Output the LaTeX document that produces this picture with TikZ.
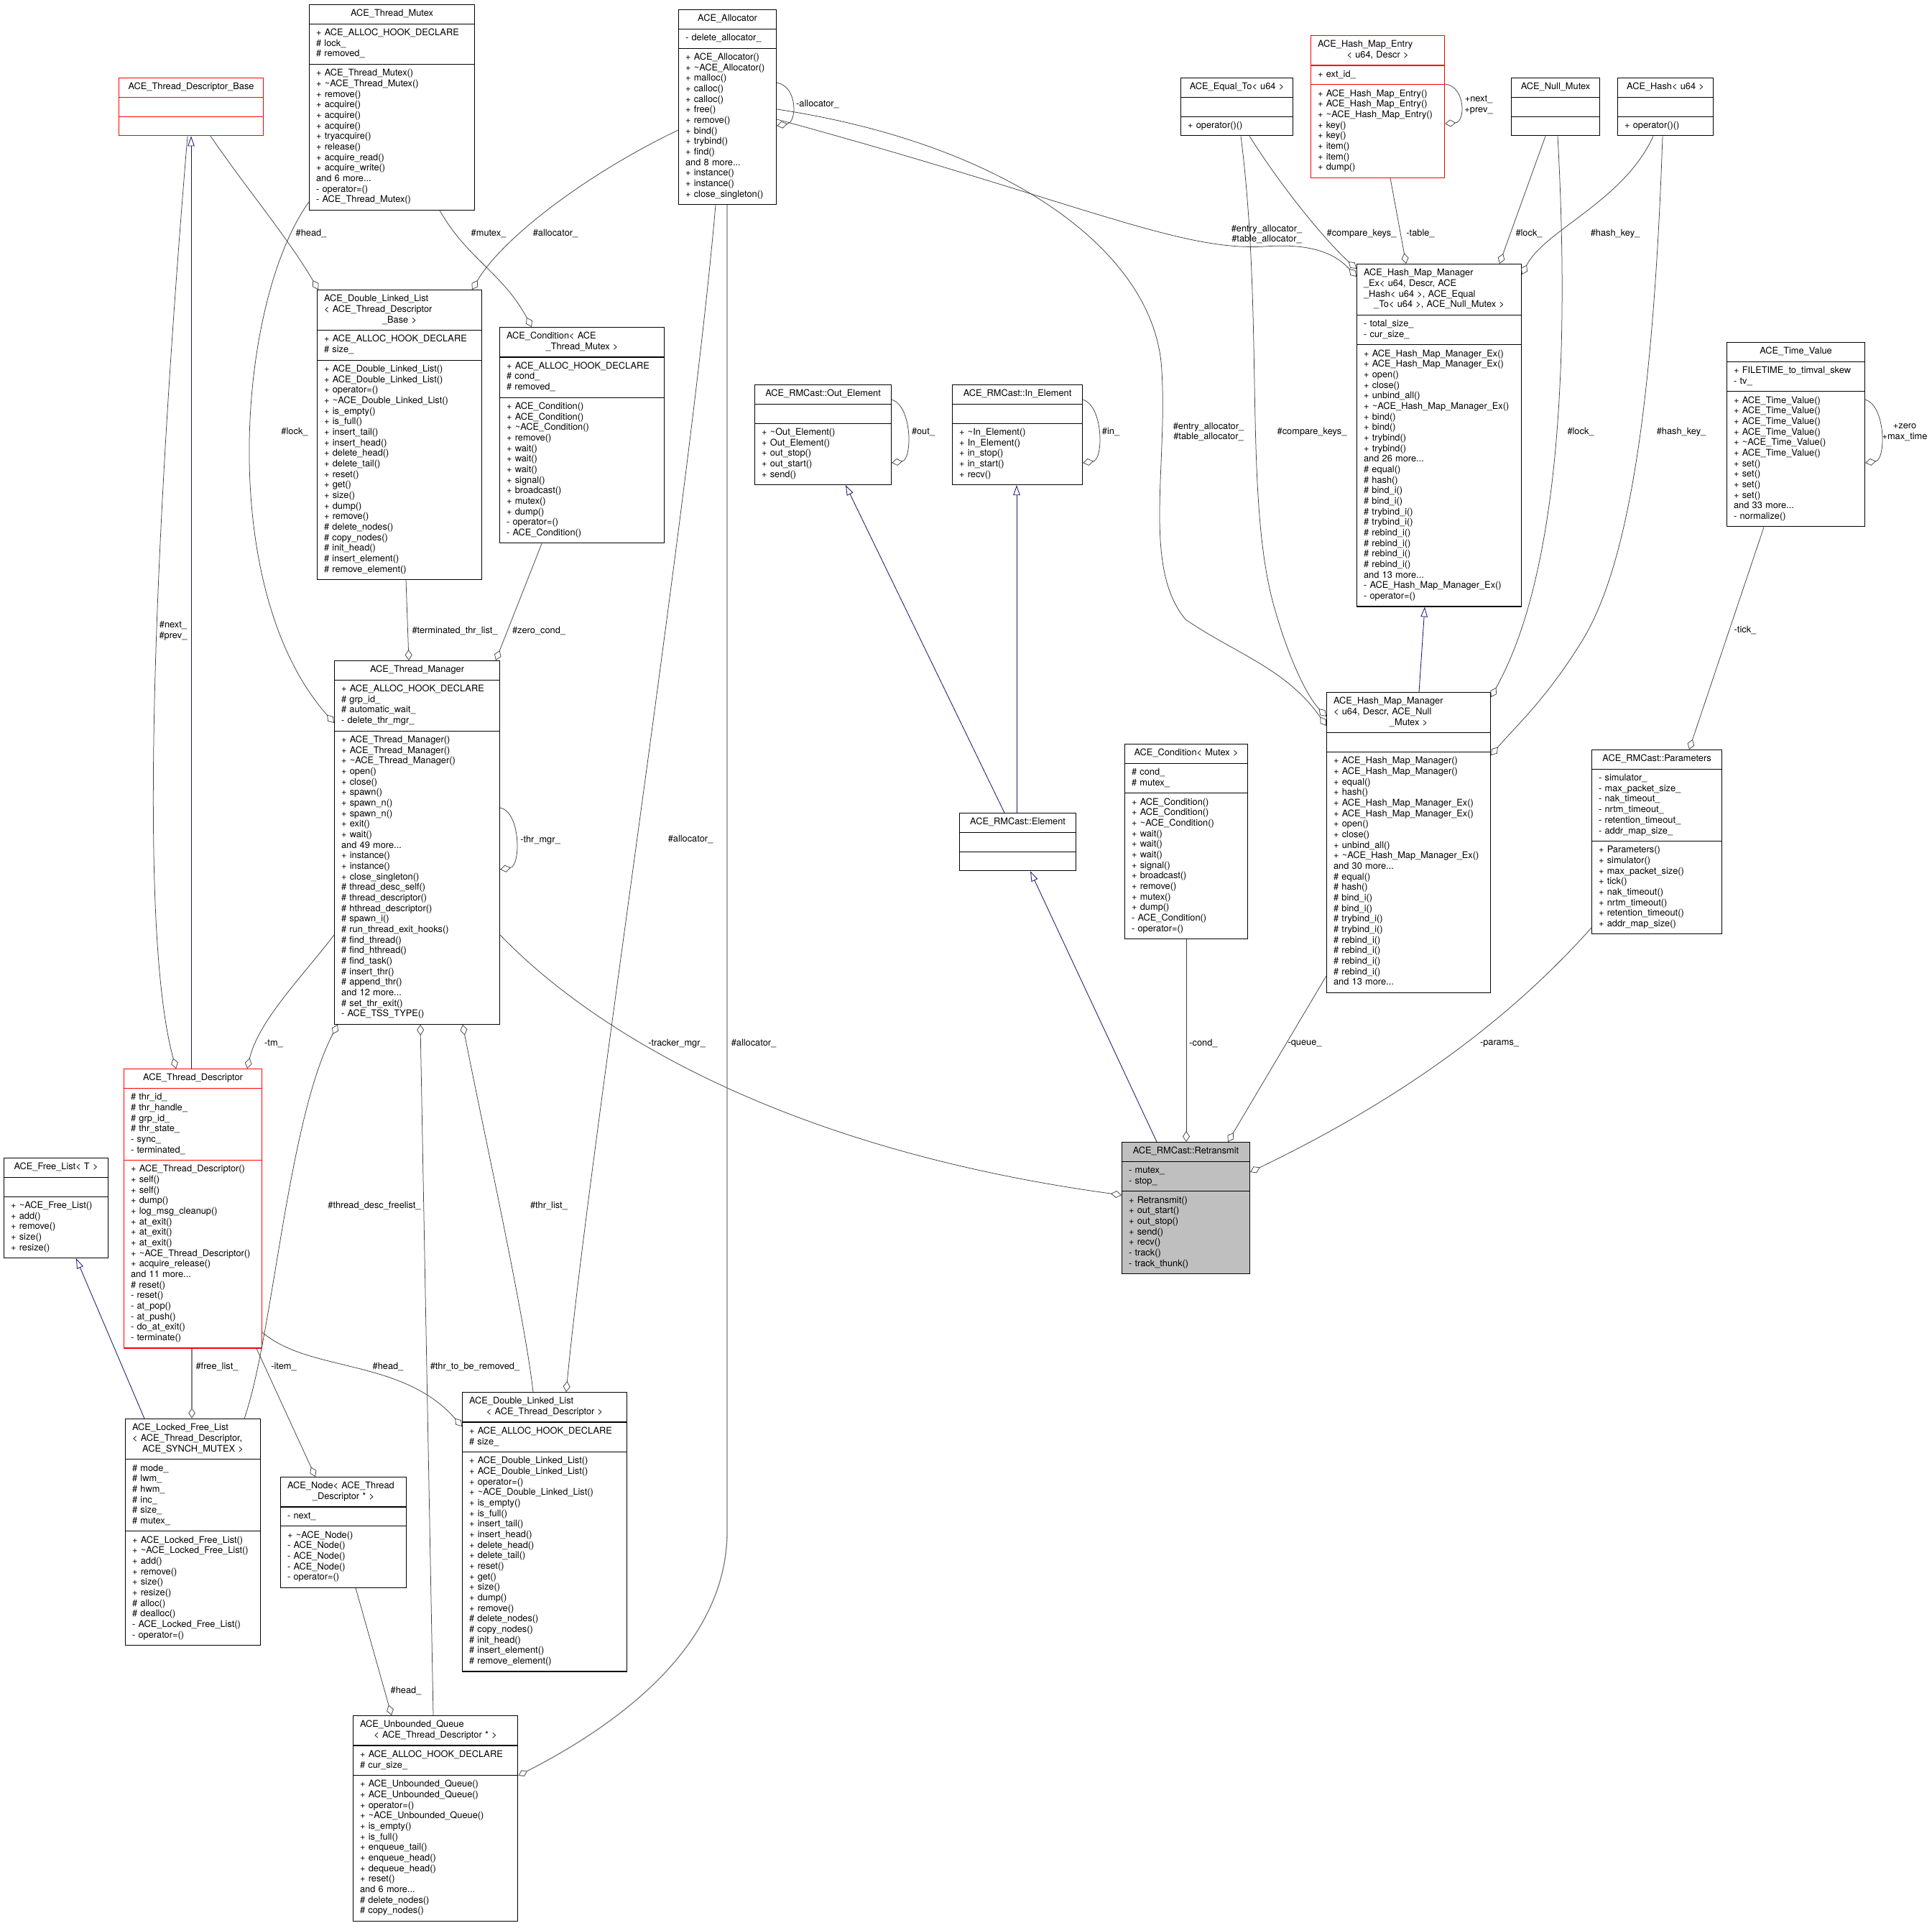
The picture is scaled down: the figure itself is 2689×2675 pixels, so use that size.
\documentclass[tikz,border=0pt]{standalone}
\usepackage{fontspec}
\setmainfont{TeX Gyre Heros}
\usetikzlibrary{arrows.meta,shapes.multipart,calc}
\definecolor{edgegrey}{RGB}{64,64,64}
\definecolor{tmplgrey}{RGB}{128,128,128}
\definecolor{inheritblue}{RGB}{25,25,112}
\definecolor{boxred}{RGB}{255,0,0}
\definecolor{focusgrey}{RGB}{191,191,191}
\hyphenpenalty=10000
\exhyphenpenalty=10000
\newcommand{\umlfont}{\fontsize{12.8}{14.67}\selectfont}
% last title line is centred, the others stay flush left
\newcommand{\ctrline}[1]{\hspace*{0pt plus 1filll}\strut#1\strut\hspace*{0pt plus 1filll}\null}
% member list shared by both double linked lists
\newcommand{\dllops}{\strut +~ACE\_Double\_Linked\_List()\\ +~ACE\_Double\_Linked\_List()\\ +~operator=()\\
  +~\textasciitilde ACE\_Double\_Linked\_List()\\ +~is\_empty()\\ +~is\_full()\\ +~insert\_tail()\\ +~insert\_head()\\
  +~delete\_head()\\ +~delete\_tail()\\ +~reset()\\ +~get()\\ +~size()\\ +~dump()\\ +~remove()\\
  \#~delete\_nodes()\\ \#~copy\_nodes()\\ \#~init\_head()\\ \#~insert\_element()\\ \#~remove\_element()\strut}

\begin{document}
\begin{tikzpicture}[
    x=1pt, y=-1pt,
    classbox/.style={rectangle split, rectangle split parts=3, draw=black, line width=1.1pt,
        anchor=north west, font=\umlfont, align=left, inner xsep=9.5pt, inner ysep=5.5pt, fill=white},
    redbox/.style={classbox, draw=boxred},
    focusbox/.style={classbox, fill=focusgrey},
    aggr/.style={draw=edgegrey, line width=0.75pt, -{Diamond[open, length=15pt, width=10pt]}},
    tmpl/.style={aggr, draw=tmplgrey, line width=1.3pt},
    inherit/.style={draw=inheritblue, line width=0.85pt, -{Triangle[open, length=14pt, width=9.5pt]}},
    lbl/.style={font=\umlfont, inner sep=0pt, align=center},
]
    \useasboundingbox (0,0) rectangle (2689,2675);

    % Thread side (left half)
    \node[redbox, text width=182pt] (tdb) at (165,108) {\ctrline{ACE\_Thread\_Descriptor\_Base}
        \nodepart{two}\strut \nodepart{three}\strut};
    \node[classbox, text width=211pt] (mutex) at (430,6) {\ctrline{ACE\_Thread\_Mutex}
        \nodepart{two}\strut +~ACE\_ALLOC\_HOOK\_DECLARE\\ \#~lock\_\\ \#~removed\_\strut
        \nodepart{three}\strut +~ACE\_Thread\_Mutex()\\ +~\textasciitilde ACE\_Thread\_Mutex()\\ +~remove()\\
        +~acquire()\\ +~acquire()\\ +~acquire()\\ +~tryacquire()\\ +~release()\\ +~acquire\_read()\\
        +~acquire\_write()\\ and~6~more...\\ -~operator=()\\ -~ACE\_Thread\_Mutex()\strut};
    \node[classbox, text width=210pt] (dlltdb) at (441,403) {\strut ACE\_Double\_Linked\_List\\
        <~ACE\_Thread\_Descriptor\\ \ctrline{\_Base~>}
        \nodepart{two}\strut +~ACE\_ALLOC\_HOOK\_DECLARE\\ \#~size\_\strut
        \nodepart{three}\dllops};
    \node[classbox, text width=210pt] (condtm) at (695,455) {\strut ACE\_Condition<~ACE\\
        \ctrline{\_Thread\_Mutex~>}
        \nodepart{two}\strut +~ACE\_ALLOC\_HOOK\_DECLARE\\ \#~cond\_\\ \#~removed\_\strut
        \nodepart{three}\strut +~ACE\_Condition()\\ +~ACE\_Condition()\\ +~\textasciitilde ACE\_Condition()\\
        +~remove()\\ +~wait()\\ +~wait()\\ +~wait()\\ +~signal()\\ +~broadcast()\\ +~mutex()\\ +~dump()\\
        -~operator=()\\ -~ACE\_Condition()\strut};
    \node[classbox, text width=211pt] (tm) at (465,919) {\ctrline{ACE\_Thread\_Manager}
        \nodepart{two}\strut +~ACE\_ALLOC\_HOOK\_DECLARE\\ \#~grp\_id\_\\ \#~automatic\_wait\_\\ -~delete\_thr\_mgr\_\strut
        \nodepart{three}\strut +~ACE\_Thread\_Manager()\\ +~ACE\_Thread\_Manager()\\ +~\textasciitilde ACE\_Thread\_Manager()\\
        +~open()\\ +~close()\\ +~spawn()\\ +~spawn\_n()\\ +~spawn\_n()\\ +~exit()\\ +~wait()\\ and~49~more...\\
        +~instance()\\ +~instance()\\ +~close\_singleton()\\ \#~thread\_desc\_self()\\ \#~thread\_descriptor()\\
        \#~hthread\_descriptor()\\ \#~spawn\_i()\\ \#~run\_thread\_exit\_hooks()\\ \#~find\_thread()\\
        \#~find\_hthread()\\ \#~find\_task()\\ \#~insert\_thr()\\ \#~append\_thr()\\ and~12~more...\\
        \#~set\_thr\_exit()\\ -~ACE\_TSS\_TYPE()\strut};
    \node[redbox, text width=173pt] (td) at (172,1487) {\ctrline{ACE\_Thread\_Descriptor}
        \nodepart{two}\strut \#~thr\_id\_\\ \#~thr\_handle\_\\ \#~grp\_id\_\\ \#~thr\_state\_\\ -~sync\_\\ -~terminated\_\strut
        \nodepart{three}\strut +~ACE\_Thread\_Descriptor()\\ +~self()\\ +~self()\\ +~dump()\\ +~log\_msg\_cleanup()\\
        +~at\_exit()\\ +~at\_exit()\\ +~at\_exit()\\ +~\textasciitilde ACE\_Thread\_Descriptor()\\ +~acquire\_release()\\
        and~11~more...\\ \#~reset()\\ -~reset()\\ -~at\_pop()\\ -~at\_push()\\ -~do\_at\_exit()\\ -~terminate()\strut};
    \node[classbox, text width=126pt] (freel) at (5,1611) {\ctrline{ACE\_Free\_List<~T~>}
        \nodepart{two}\strut
        \nodepart{three}\strut +~\textasciitilde ACE\_Free\_List()\\ +~add()\\ +~remove()\\ +~size()\\ +~resize()\strut};
    \node[classbox, text width=169pt] (lfl) at (174,1974) {\strut ACE\_Locked\_Free\_List\\
        <~ACE\_Thread\_Descriptor,\\ \ctrline{ACE\_SYNCH\_MUTEX~>}
        \nodepart{two}\strut \#~mode\_\\ \#~lwm\_\\ \#~hwm\_\\ \#~inc\_\\ \#~size\_\\ \#~mutex\_\strut
        \nodepart{three}\strut +~ACE\_Locked\_Free\_List()\\ +~\textasciitilde ACE\_Locked\_Free\_List()\\ +~add()\\
        +~remove()\\ +~size()\\ +~resize()\\ \#~alloc()\\ \#~dealloc()\\ -~ACE\_Locked\_Free\_List()\\ -~operator=()\strut};
    \node[classbox, text width=156pt] (node) at (390,2055) {\strut ACE\_Node<~ACE\_Thread\\
        \ctrline{\_Descriptor~*~>}
        \nodepart{two}\strut -~next\_\strut
        \nodepart{three}\strut +~\textasciitilde ACE\_Node()\\ -~ACE\_Node()\\ -~ACE\_Node()\\ -~ACE\_Node()\\ -~operator=()\strut};
    \node[classbox, text width=210pt] (dlltd) at (643,1937) {\strut ACE\_Double\_Linked\_List\\
        \ctrline{<~ACE\_Thread\_Descriptor~>}
        \nodepart{two}\strut +~ACE\_ALLOC\_HOOK\_DECLARE\\ \#~size\_\strut
        \nodepart{three}\dllops};
    \node[classbox, text width=210pt] (uq) at (491,2387) {\strut ACE\_Unbounded\_Queue\\
        \ctrline{<~ACE\_Thread\_Descriptor~*~>}
        \nodepart{two}\strut +~ACE\_ALLOC\_HOOK\_DECLARE\\ \#~cur\_size\_\strut
        \nodepart{three}\strut +~ACE\_Unbounded\_Queue()\\ +~ACE\_Unbounded\_Queue()\\ +~operator=()\\
        +~\textasciitilde ACE\_Unbounded\_Queue()\\ +~is\_empty()\\ +~is\_full()\\ +~enqueue\_tail()\\
        +~enqueue\_head()\\ +~dequeue\_head()\\ +~reset()\\ and~6~more...\\ \#~delete\_nodes()\\ \#~copy\_nodes()\strut};

    % Allocator and RMCast elements (middle)
    \node[classbox, text width=117pt] (alloc) at (944,13) {\ctrline{ACE\_Allocator}
        \nodepart{two}\strut -~delete\_allocator\_\strut
        \nodepart{three}\strut +~ACE\_Allocator()\\ +~\textasciitilde ACE\_Allocator()\\ +~malloc()\\ +~calloc()\\
        +~calloc()\\ +~free()\\ +~remove()\\ +~bind()\\ +~trybind()\\ +~find()\\ and~8~more...\\
        +~instance()\\ +~instance()\\ +~close\_singleton()\strut};
    \node[classbox, text width=171pt] (outel) at (1050,535) {\ctrline{ACE\_RMCast::Out\_Element}
        \nodepart{two}\strut
        \nodepart{three}\strut +~\textasciitilde Out\_Element()\\ +~Out\_Element()\\ +~out\_stop()\\ +~out\_start()\\ +~send()\strut};
    \node[classbox, text width=162pt] (inel) at (1325,535) {\ctrline{ACE\_RMCast::In\_Element}
        \nodepart{two}\strut
        \nodepart{three}\strut +~\textasciitilde In\_Element()\\ +~In\_Element()\\ +~in\_stop()\\ +~in\_start()\\ +~recv()\strut};
    \node[classbox, text width=143pt] (elem) at (1335,1131) {\ctrline{ACE\_RMCast::Element}
        \nodepart{two}\strut \nodepart{three}\strut};
    \node[classbox, text width=152pt] (condmx) at (1565,1035) {\ctrline{ACE\_Condition<~Mutex~>}
        \nodepart{two}\strut \#~cond\_\\ \#~mutex\_\strut
        \nodepart{three}\strut +~ACE\_Condition()\\ +~ACE\_Condition()\\ +~\textasciitilde ACE\_Condition()\\
        +~wait()\\ +~wait()\\ +~wait()\\ +~signal()\\ +~broadcast()\\ +~remove()\\ +~mutex()\\ +~dump()\\
        -~ACE\_Condition()\\ -~operator=()\strut};
    \node[focusbox, text width=159pt] (retr) at (1561,1589) {\ctrline{ACE\_RMCast::Retransmit}
        \nodepart{two}\strut -~mutex\_\\ -~stop\_\strut
        \nodepart{three}\strut +~Retransmit()\\ +~out\_start()\\ +~out\_stop()\\ +~send()\\ +~recv()\\
        -~track()\\ -~track\_thunk()\strut};

    % Hash map side (right half)
    \node[classbox, text width=137pt] (equal) at (1643,108) {\ctrline{ACE\_Equal\_To<~u64~>}
        \nodepart{two}\strut \nodepart{three}\strut +~operator()()\strut};
    \node[redbox, text width=167pt] (entry) at (1824,49) {\strut ACE\_Hash\_Map\_Entry\\
        \ctrline{<~u64,~Descr~>}
        \nodepart{two}\strut +~ext\_id\_\strut
        \nodepart{three}\strut +~ACE\_Hash\_Map\_Entry()\\ +~ACE\_Hash\_Map\_Entry()\\ +~\textasciitilde ACE\_Hash\_Map\_Entry()\\
        +~key()\\ +~key()\\ +~item()\\ +~item()\\ +~dump()\strut};
    \node[classbox, text width=104pt] (nullmtx) at (2103,108) {\ctrline{ACE\_Null\_Mutex}
        \nodepart{two}\strut \nodepart{three}\strut};
    \node[classbox, text width=114pt] (hash) at (2251,108) {\ctrline{ACE\_Hash<~u64~>}
        \nodepart{two}\strut \nodepart{three}\strut +~operator()()\strut};
    \node[classbox, text width=210pt] (hmmex) at (1888,367) {\strut ACE\_Hash\_Map\_Manager\\
        \_Ex<~u64,~Descr,~ACE\\ \_Hash<~u64~>,~ACE\_Equal\\ \ctrline{\_To<~u64~>,~ACE\_Null\_Mutex~>}
        \nodepart{two}\strut -~total\_size\_\\ -~cur\_size\_\strut
        \nodepart{three}\strut +~ACE\_Hash\_Map\_Manager\_Ex()\\ +~ACE\_Hash\_Map\_Manager\_Ex()\\ +~open()\\ +~close()\\
        +~unbind\_all()\\ +~\textasciitilde ACE\_Hash\_Map\_Manager\_Ex()\\ +~bind()\\ +~bind()\\ +~trybind()\\
        +~trybind()\\ and~26~more...\\ \#~equal()\\ \#~hash()\\ \#~bind\_i()\\ \#~bind\_i()\\ \#~trybind\_i()\\
        \#~trybind\_i()\\ \#~rebind\_i()\\ \#~rebind\_i()\\ \#~rebind\_i()\\ \#~rebind\_i()\\ and~13~more...\\
        -~ACE\_Hash\_Map\_Manager\_Ex()\\ -~operator=()\strut};
    \node[classbox, text width=209pt] (hmm) at (1846,963) {\strut ACE\_Hash\_Map\_Manager\\
        <~u64,~Descr,~ACE\_Null\\ \ctrline{\_Mutex~>}
        \nodepart{two}\strut
        \nodepart{three}\strut +~ACE\_Hash\_Map\_Manager()\\ +~ACE\_Hash\_Map\_Manager()\\ +~equal()\\ +~hash()\\
        +~ACE\_Hash\_Map\_Manager\_Ex()\\ +~ACE\_Hash\_Map\_Manager\_Ex()\\ +~open()\\ +~close()\\ +~unbind\_all()\\
        +~\textasciitilde ACE\_Hash\_Map\_Manager\_Ex()\\ and~30~more...\\ \#~equal()\\ \#~hash()\\ \#~bind\_i()\\
        \#~bind\_i()\\ \#~trybind\_i()\\ \#~trybind\_i()\\ \#~rebind\_i()\\ \#~rebind\_i()\\ \#~rebind\_i()\\
        \#~rebind\_i()\\ and~13~more...\strut};
    \node[classbox, text width=173pt] (timev) at (2403,476) {\ctrline{ACE\_Time\_Value}
        \nodepart{two}\strut +~FILETIME\_to\_timval\_skew\\ -~tv\_\strut
        \nodepart{three}\strut +~ACE\_Time\_Value()\\ +~ACE\_Time\_Value()\\ +~ACE\_Time\_Value()\\ +~ACE\_Time\_Value()\\
        +~\textasciitilde ACE\_Time\_Value()\\ +~ACE\_Time\_Value()\\ +~set()\\ +~set()\\ +~set()\\ +~set()\\
        and~33~more...\\ -~normalize()\strut};
    \node[classbox, text width=162pt] (params) at (2215,1043) {\ctrline{ACE\_RMCast::Parameters}
        \nodepart{two}\strut -~simulator\_\\ -~max\_packet\_size\_\\ -~nak\_timeout\_\\ -~nrtm\_timeout\_\\
        -~retention\_timeout\_\\ -~addr\_map\_size\_\strut
        \nodepart{three}\strut +~Parameters()\\ +~simulator()\\ +~max\_packet\_size()\\ +~tick()\\ +~nak\_timeout()\\
        +~nrtm\_timeout()\\ +~retention\_timeout()\\ +~addr\_map\_size()\strut};

    % Inheritance
    \draw[inherit] (td.north -| 266,0) -- (tdb.south -| 266,0);
    \draw[inherit] (lfl.north -| 201,0) -- (freel.south -| 106,0);
    \draw[inherit] (elem.north -| 1398,0) -- (outel.south -| 1177,0);
    \draw[inherit] (elem.north -| 1415,0) -- (inel.south -| 1415,0);
    \draw[inherit] (retr.north -| 1610,0) -- (elem.south -| 1434,0);
    \draw[inherit] (hmm.north -| 1975,0) -- (hmmex.south -| 1983,0);

    % Members of the thread classes
    \draw[aggr] (tdb.south -| 293,0) .. controls (345,265) and (400,330) .. (dlltdb.north -| 443,0);
    \draw[aggr] (tdb.south -| 261,0) .. controls (235,500) and (180,1250) .. (td.north -| 245,0);
    \draw[aggr] (mutex.west |- 0,281) .. controls (330,420) and (300,820) .. (tm.west |- 0,1006);
    \draw[aggr] (mutex.south -| 612,0) .. controls (650,360) and (700,380) .. (condtm.north -| 740,0);
    \draw[aggr] (alloc.west |- 0,181) .. controls (820,240) and (700,330) .. (dlltdb.north -| 657,0);
    \draw[aggr] (dlltdb.south -| 565,0) -- (tm.north -| 569,0);
    \draw[aggr] (condtm.south -| 754,0) -- (tm.north -| 690,0);
    \draw[aggr] (tm.east |- 0,1124) .. controls (725,1130) and (725,1205) .. (tm.east |- 0,1210);
    \draw[aggr] (tm.west |- 0,1301) .. controls (420,1360) and (360,1420) .. (td.north -| 344,0);
    \draw[aggr] (tm.east |- 0,1301) .. controls (830,1440) and (1100,1600) .. (retr.west |- 0,1663);
    \draw[aggr] (lfl.north -| 340,0) .. controls (380,1860) and (400,1560) .. (tm.south -| 470,0);
    \draw[aggr] (dlltd.north -| 742,0) .. controls (730,1830) and (670,1560) .. (tm.south -| 644,0);
    \draw[aggr] (uq.north -| 603,0) -- (tm.south -| 585,0);
    \draw[tmpl] (td.south -| 267,0) -- (lfl.north -| 267,0);
    \draw[aggr] (td.south -| 357,0) -- (node.north -| 439,0);
    \draw[aggr] (td.east |- 0,1854) .. controls (430,1910) and (560,1890) .. (dlltd.west |- 0,1985);
    \draw[aggr] (node.south -| 495,0) -- (uq.north -| 545,0);

    % Allocator members
    \draw[tmpl] (alloc.south -| 1012,0) -- (1012,2131) .. controls (1012,2290) and (860,2400) .. (uq.east |- 0,2471);
    \draw[aggr] (alloc.south -| 996,0) .. controls (960,700) and (820,1600) .. (dlltd.north -| 788,0);
    \draw[aggr] (alloc.east |- 0,115) .. controls (1110,120) and (1110,170) .. (alloc.east |- 0,175);
    \draw[aggr] (alloc.east |- 0,166) .. controls (1500,280) and (1640,350) .. (1760,343)
        .. controls (1830,338) and (1860,355) .. (hmmex.west |- 0,385);
    \draw[aggr] (alloc.east |- 0,152) .. controls (1400,200) and (1610,350) .. (1617,517)
        .. controls (1625,650) and (1590,790) .. (1650,862) .. controls (1720,910) and (1790,930) .. (hmm.west |- 0,1010);

    % Hash map members
    \draw[aggr] (equal.south -| 1739,0) .. controls (1790,270) and (1850,340) .. (hmmex.west |- 0,374);
    \draw[aggr] (equal.south -| 1727,0) .. controls (1760,450) and (1730,700) .. (1775,850)
        .. controls (1795,920) and (1820,970) .. (hmm.west |- 0,997);
    \draw[aggr] (entry.south -| 1935,0) -- (hmmex.north -| 1957,0);
    \draw[aggr] (entry.east |- 0,117) .. controls (2040,120) and (2040,170) .. (entry.east |- 0,172);
    \draw[aggr] (nullmtx.south -| 2151,0) -- (hmmex.north -| 2087,0);
    \draw[aggr] (nullmtx.south -| 2168,0) .. controls (2185,500) and (2170,800) .. (hmm.east |- 0,970);
    \draw[aggr] (hash.south -| 2301,0) .. controls (2260,280) and (2150,320) .. (hmmex.east |- 0,382);
    \draw[aggr] (hash.south -| 2314,0) .. controls (2300,600) and (2260,800) .. (2200,895)
        .. controls (2150,975) and (2110,1010) .. (hmm.east |- 0,1051);

    % RMCast members
    \draw[aggr] (outel.east |- 0,556) .. controls (1270,565) and (1270,640) .. (outel.east |- 0,644);
    \draw[aggr] (inel.east |- 0,556) .. controls (1536,565) and (1536,640) .. (inel.east |- 0,644);
    \draw[aggr] (condmx.south -| 1651,0) -- (retr.north -| 1651,0);
    \draw[aggr] (hmm.west |- 0,1358) -- (retr.north -| 1709,0);
    \draw[aggr] (params.west |- 0,1291) .. controls (2100,1420) and (1950,1530) .. (retr.east |- 0,1631);
    \draw[aggr] (timev.south -| 2455,0) -- (params.north -| 2351,0);
    \draw[aggr] (timev.east |- 0,556) .. controls (2625,565) and (2625,640) .. (timev.east |- 0,644);

    % Labels
    \node[lbl] (l-head-tdb) at (433,325) {\#head\_};
    \node[lbl] (l-mutex) at (680,325) {\#mutex\_};
    \node[lbl] (l-alloc-tdb) at (773,325) {\#allocator\_};
    \node[lbl] (l-lock-tm) at (410,601) {\#lock\_};
    \node[lbl] (l-nextprev) at (241,878) {\#next\_\\\#prev\_};
    \node[lbl] (l-termlist) at (633,878) {\#terminated\_thr\_list\_};
    \node[lbl] (l-zerocond) at (750,878) {\#zero\_cond\_};
    \node[lbl] (l-thrmgr) at (752,1169) {-thr\_mgr\_};
    \node[lbl] (l-tm) at (381,1452) {-tm\_};
    \node[lbl] (l-tracker) at (942,1452) {-tracker\_mgr\_};
    \node[lbl] (l-alloc-uq) at (1049,1452) {\#allocator\_};
    \node[lbl] (l-alloc-dll) at (961,1168) {\#allocator\_};
    \node[lbl] (l-descfree) at (521,1678) {\#thread\_desc\_freelist\_};
    \node[lbl] (l-thrlist) at (764,1678) {\#thr\_list\_};
    \node[lbl] (l-freelist) at (302,1902) {\#free\_list\_};
    \node[lbl] (l-item) at (395,1902) {-item\_};
    \node[lbl] (l-head-td) at (540,1902) {\#head\_};
    \node[lbl] (l-removed) at (661,1902) {\#thr\_to\_be\_removed\_};
    \node[lbl] (l-head-node) at (565,2353) {\#head\_};
    \node[lbl] (l-allocself) at (1138,145) {-allocator\_};
    \node[lbl] (l-entry-ex) at (1763,326) {\#entry\_allocator\_\\\#table\_allocator\_};
    \node[lbl] (l-entry-mgr) at (1682,601) {\#entry\_allocator\_\\\#table\_allocator\_};
    \node[lbl] (l-compare-ex) at (1895,325) {\#compare\_keys\_};
    \node[lbl] (l-compare-mgr) at (1826,601) {\#compare\_keys\_};
    \node[lbl] (l-table) at (1977,325) {-table\_};
    \node[lbl] (l-nextprev-entry) at (2058,146) {+next\_\\+prev\_};
    \node[lbl] (l-lock-ex) at (2128,325) {\#lock\_};
    \node[lbl] (l-lock-mgr) at (2200,601) {\#lock\_};
    \node[lbl] (l-hash-ex) at (2248,325) {\#hash\_key\_};
    \node[lbl] (l-hash-mgr) at (2340,601) {\#hash\_key\_};
    \node[lbl] (l-out) at (1285,601) {\#out\_};
    \node[lbl] (l-in) at (1546,601) {\#in\_};
    \node[lbl] (l-cond) at (1675,1452) {-cond\_};
    \node[lbl] (l-queue) at (1816,1452) {-queue\_};
    \node[lbl] (l-params) at (2087,1452) {-params\_};
    \node[lbl] (l-tick) at (2429,877) {-tick\_};
    \node[lbl] (l-zero) at (2651,602) {+zero\\+max\_time};
\end{tikzpicture}
\end{document}
